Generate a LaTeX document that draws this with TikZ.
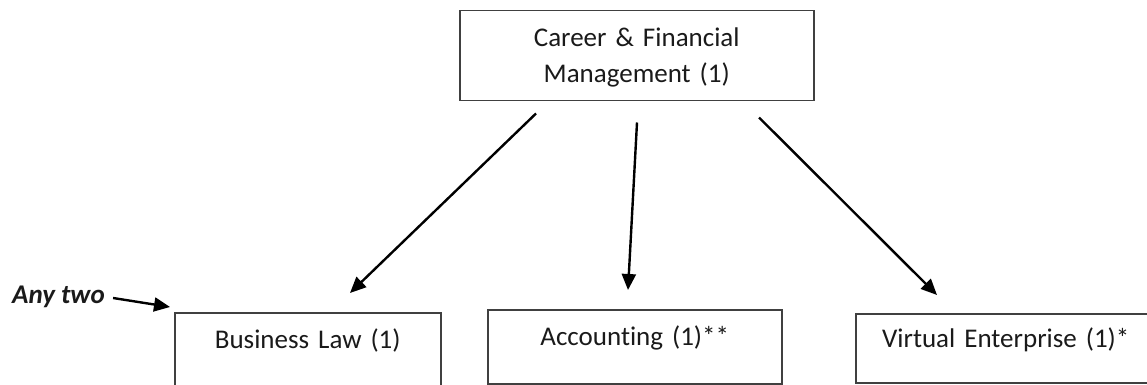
\documentclass[tikz,border=0pt]{standalone}
\usepackage{fontspec}
\setmainfont{Carlito}[Ligatures={NoCommon}]
\usetikzlibrary{arrows.meta,calc}
\definecolor{boxline}{HTML}{404040}
\definecolor{txt}{HTML}{1A1A1A}
\tikzset{
  box/.style={draw=boxline, line width=1.5pt, inner sep=0pt, anchor=north west,
    align=center, text=txt, font=\fontsize{27}{36}\selectfont},
  arr/.style={draw=black, line width=2.4pt, -{Triangle[length=16pt,width=14pt]}},
}
\begin{document}
\begin{tikzpicture}[x=1pt,y=-1pt]
\useasboundingbox (0,0) rectangle (1147,385);
\clip (0,0) rectangle (1147,385);
\node[box, text width=354pt, text height=36pt, text depth=54pt] (top) at (459,10)
  {Career \& Financial\\Management (1)};
\node[box, text width=266pt, text height=36pt, text depth=44pt] (bl) at (174,312)
  {Business Law (1)};
\node[box, text width=294pt, text height=36pt, text depth=38pt] (acc) at (487,309)
  {Accounting (1)**};
\node[box, text width=300pt, text height=34pt, text depth=35pt] (ve) at (855,313)
  {Virtual Enterprise (1)*};
\node[anchor=base west, inner sep=0pt, text=txt, font=\fontsize{27}{32}\selectfont\bfseries\itshape] (any) at (12,303) {Any two};
\draw[arr] ($(top.south west)+(77,12)$) -- ($(bl.north west)+(176,-19)$);
\draw[arr] ($(top.south west)+(178,21)$) -- ($(acc.north west)+(141,-19)$);
\draw[arr] ($(top.south west)+(300,16)$) -- ($(ve.north west)+(82,-18)$);
\draw[arr] ($(any.base east)+(8,-5)$) -- ($(bl.north west)+(-4,-5)$);
\end{tikzpicture}
\end{document}
